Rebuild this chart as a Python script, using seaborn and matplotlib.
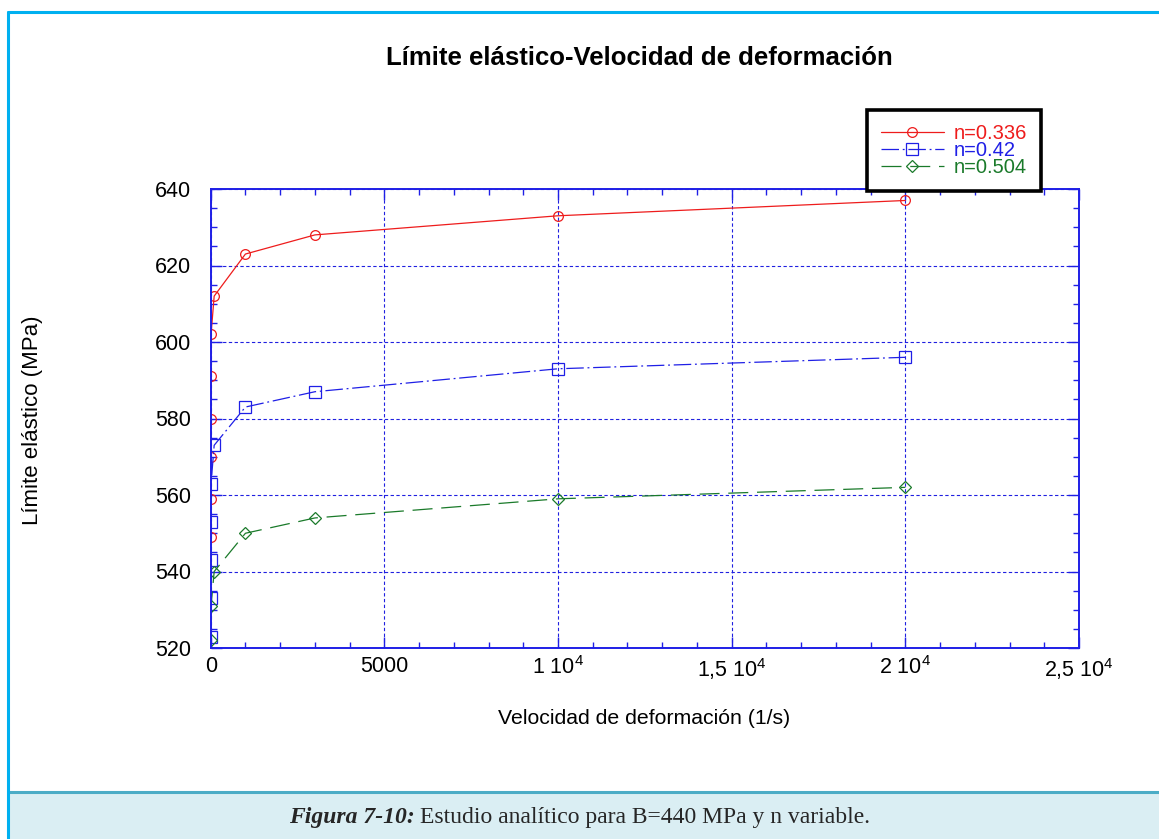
import matplotlib
matplotlib.use("Agg")
import matplotlib.pyplot as plt
import numpy as np
import pandas as pd
import seaborn as sns
from matplotlib.lines import Line2D
from matplotlib.patches import Rectangle
from matplotlib.ticker import MultipleLocator, FixedLocator, FixedFormatter

# ---- data: yield stress (MPa) vs strain rate (1/s) for three hardening exponents
labels = ["n=0.336", "n=0.42", "n=0.504"]
rate_a = [0.0001, 0.001, 0.01, 0.1, 1, 10, 100, 1000, 3000, 10000, 20000]
sigma_a = [549, 559, 570, 580, 591, 602, 612, 623, 628, 633, 637]
rate_b = [0.001, 0.01, 0.1, 1, 10, 100, 1000, 3000, 10000, 20000]
sigma_b = [523, 533, 543, 553, 563, 573, 583, 587, 593, 596]
rate_c = [1, 10, 100, 1000, 3000, 10000, 20000]
sigma_c = [522, 531, 540, 550, 554, 559, 562]

x_ticks = [0, 5000, 10000, 15000, 20000, 25000]
x_ticklabels = ["0", "5000", "1 10$^{4}$", "1,5 10$^{4}$", "2 10$^{4}$", "2,5 10$^{4}$"]
y_ticks = [520, 540, 560, 580, 600, 620, 640]

colors = {"n=0.336": "#ee1c1c", "n=0.42": "#1f1fe6", "n=0.504": "#1a7a2a"}
markers = {"n=0.336": "o", "n=0.42": "s", "n=0.504": "D"}
dashes = {"n=0.336": "", "n=0.42": (14, 3, 1.5, 3), "n=0.504": (16, 7)}
msizes = {"n=0.336": 7.0, "n=0.42": 8.6, "n=0.504": 6.0}

df = pd.concat([
    pd.DataFrame({"rate": rate_a, "sigma": sigma_a, "serie": labels[0]}),
    pd.DataFrame({"rate": rate_b, "sigma": sigma_b, "serie": labels[1]}),
    pd.DataFrame({"rate": rate_c, "sigma": sigma_c, "serie": labels[2]}),
], ignore_index=True)

sns.set_theme(style="white")
plt.rcParams["font.family"] = ["Liberation Sans", "DejaVu Sans"]
plt.rcParams["mathtext.fontset"] = "custom"
plt.rcParams["mathtext.rm"] = "Liberation Sans"
plt.rcParams["mathtext.it"] = "Liberation Sans:italic"
plt.rcParams["mathtext.bf"] = "Liberation Sans:bold"
plt.rcParams["mathtext.default"] = "regular"

W, H = 1159, 839
fig = plt.figure(figsize=(W / 100, H / 100), dpi=100)
fig.patch.set_facecolor("white")


def fx(px):
    return px / W


def fy(py):
    return 1 - py / H


# ---- page frame and caption band
fig.add_artist(Rectangle((fx(8), 0), 1 - fx(8), fy(792), transform=fig.transFigure,
                         facecolor="#daeef3", edgecolor="none", zorder=0))
fig.add_artist(Line2D([fx(8), 1], [fy(792), fy(792)], transform=fig.transFigure,
                      color="#4bacc6", lw=2.2, zorder=1))
fig.add_artist(Line2D([fx(8), fx(8)], [fy(12), 0], transform=fig.transFigure,
                      color="#00b0f0", lw=2.2, zorder=1))
fig.add_artist(Line2D([fx(8), 1], [fy(12), fy(12)], transform=fig.transFigure,
                      color="#00b0f0", lw=2.2, zorder=1))

# ---- axes
ax = fig.add_axes([fx(210.7), fy(648), fx(1079) - fx(210.7), fy(189) - fy(648)])
ax.set_facecolor("white")

sns.lineplot(data=df, x="rate", y="sigma", hue="serie", style="serie",
             palette=colors, markers=markers, dashes=dashes, estimator=None,
             legend=False, lw=0.9, ax=ax)
# open markers drawn in each series' own colour
for line, lab in zip(ax.lines, labels):
    line.set_markerfacecolor("none")
    line.set_markeredgecolor(colors[lab])
    line.set_markeredgewidth(0.9)
    line.set_markersize(msizes[lab])

ax.set_xlim(0, 25000)
ax.set_ylim(520, 640)
ax.xaxis.set_major_locator(FixedLocator(x_ticks))
ax.xaxis.set_major_formatter(FixedFormatter(x_ticklabels))
ax.xaxis.set_minor_locator(MultipleLocator(1000))
ax.yaxis.set_major_locator(FixedLocator(y_ticks))
ax.yaxis.set_minor_locator(MultipleLocator(5))

ax.grid(True, which="major", color="#2020e0", linestyle=(0, (3, 2.2)), lw=0.8)
ax.tick_params(which="both", direction="in", top=True, right=True, bottom=True,
               left=True, color="#1f1fe6", width=1.0, labelsize=15.5, labelcolor="black")
ax.tick_params(which="major", length=8)
ax.tick_params(which="minor", length=4.5)
ax.tick_params(axis="y", which="major", pad=14)
ax.tick_params(axis="x", which="major", pad=6)
for sp in ax.spines.values():
    sp.set_color("#1f1fe6")
    sp.set_linewidth(1.4)
ax.set_xlabel("")
ax.set_ylabel("")

# ---- titles and axis labels
fig.text(fx(639), fy(58), "Límite elástico-Velocidad de deformación",
         ha="center", va="center", fontsize=18.5, fontweight="bold", color="black")
fig.text(fx(644), fy(718), "Velocidad de deformación (1/s)",
         ha="center", va="center", fontsize=15.3, color="black")
fig.text(fx(33), fy(420), "Límite elástico (MPa)", rotation=90,
         ha="center", va="center", fontsize=16, color="black")

# ---- legend
handles = [Line2D([], [], color=colors[l], marker=markers[l], markersize=msizes[l],
                  markerfacecolor="none", markeredgewidth=0.9, lw=0.9,
                  dashes=dashes[l] if dashes[l] else (None, None)) for l in labels]
handles[0].set_linestyle("-")
leg = fig.legend(handles, labels, loc="upper left",
                 bbox_to_anchor=(fx(867), fy(110)), frameon=True, fancybox=False,
                 edgecolor="black", framealpha=1, fontsize=14.5, handlelength=3.1,
                 handletextpad=0.5, labelspacing=-0.1, borderpad=0.7,
                 borderaxespad=0)
leg.get_frame().set_linewidth(2.6)
for t, l in zip(leg.get_texts(), labels):
    t.set_color(colors[l])

# ---- caption, centred as one line under the chart
cap_y = fy(818)
serif = ["Liberation Serif", "DejaVu Serif"]
t1 = fig.text(0, cap_y, "Figura 7-10:", ha="left", va="center", fontsize=17,
              fontweight="bold", fontstyle="italic", family=serif)
t2 = fig.text(0, cap_y, "Estudio analítico para B=440 MPa y n variable.",
              ha="left", va="center", fontsize=17, family=serif)
fig.canvas.draw()
r = fig.canvas.get_renderer()
w1 = t1.get_window_extent(r).width
w2 = t2.get_window_extent(r).width
gap = 5
start = 579.5 - (w1 + gap + w2) / 2
t1.set_x(fx(start))
t2.set_x(fx(start + w1 + gap))

fig.savefig("out.png", dpi=100)
